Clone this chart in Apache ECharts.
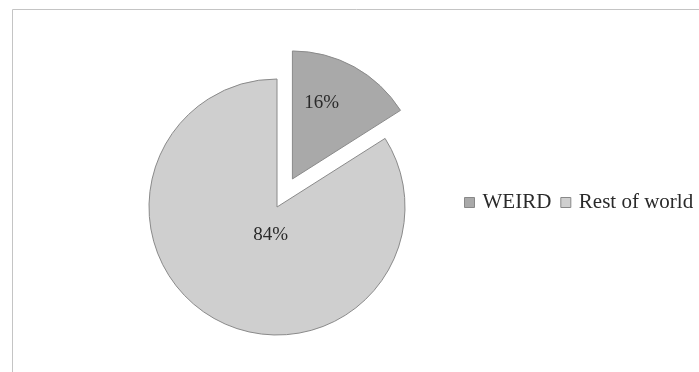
<!DOCTYPE html>
<html>
<head>
<meta charset="utf-8">
<script src="https://cdn.jsdelivr.net/npm/echarts@6/dist/echarts.min.js"></script>
<style>html,body{margin:0;padding:0;background:#fff}#c{width:699px;height:372px}</style>
</head>
<body>
<div id="c"></div>
<script>
var categories = ['WEIRD', 'Rest of world'];
var values = [16, 84];
var labels = ['16%', '84%'];
var colors = ['#a9a9a9', '#cfcfcf'];
var labelShift = [[-3, -17], [26, -31]];

var chart = echarts.init(document.getElementById('c'), null, {renderer: 'canvas'});
var data = categories.map(function (n, i) {
  return {name: n, value: values[i], selected: i === 0, itemStyle: {color: colors[i]}};
});
chart.setOption({
  backgroundColor: '#ffffff',
  animation: false,
  graphic: [{
    type: 'rect', shape: {x: 12.5, y: 9.5, width: 700, height: 400},
    style: {fill: null, stroke: '#c4c4c4', lineWidth: 1}, silent: true
  }],
  legend: {
    data: categories,
    orient: 'horizontal',
    left: 464, top: 192, width: 300,
    padding: 0,
    itemWidth: 10, itemHeight: 10, itemGap: 9,
    icon: 'rect',
    textStyle: {fontFamily: 'Liberation Serif', fontSize: 21, color: '#2a2a2a', padding: [0, 0, 0, 3]},
    itemStyle: {borderColor: '#888', borderWidth: 1}
  },
  series: [{
    type: 'pie',
    center: [277, 207],
    radius: 128,
    startAngle: 90,
    clockwise: true,
    selectedMode: 'single',
    selectedOffset: 32,
    data: data,
    itemStyle: {borderColor: '#8a8a8a', borderWidth: 1},
    label: {
      show: true, position: 'inside',
      formatter: function (p) { return labels[p.dataIndex]; },
      fontFamily: 'Liberation Serif', fontSize: 19, color: '#2a2a2a'
    },
    labelLayout: function (p) {
      return {dx: labelShift[p.dataIndex][0], dy: labelShift[p.dataIndex][1]};
    },
    emphasis: {disabled: true},
    labelLine: {show: false}
  }]
});
</script>
</body>
</html>
